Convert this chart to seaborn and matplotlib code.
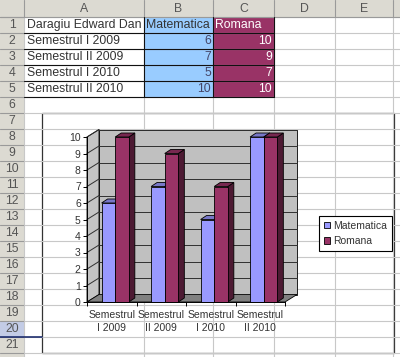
import numpy as np
import pandas as pd
import matplotlib.pyplot as plt
import seaborn as sns
from matplotlib.patches import Rectangle, Polygon, Patch

# datele din foaia excel
titlu = 'Daragiu Edward Dan'
semestre = ['Semestrul I 2009', 'Semestrul II 2009', 'Semestrul I 2010', 'Semestrul II 2010']
etichete = ['Semestrul\nI 2009', 'Semestrul\nII 2009', 'Semestrul\nI 2010', 'Semestrul\nII 2010']
materii = ['Matematica', 'Romana']
matematica = [6, 7, 5, 10]
romana = [10, 9, 7, 10]
coloane = ['A', 'B', 'C', 'D', 'E']
niveluri = list(range(11))

culori = {'Matematica': '#9999FF', 'Romana': '#993366'}

sns.set_theme(style='white')
plt.rcParams['font.family'] = ['Liberation Sans', 'DejaVu Sans']

fig = plt.figure(figsize=(4, 3.57), dpi=100)

# --- foaia de calcul (coordonate in pixeli) ---
bg = fig.add_axes([0, 0, 1, 1])
bg.set_xlim(0, 400)
bg.set_ylim(357, 0)
bg.axis('off')

col_x = [0, 24, 144, 213, 274, 335, 393, 400]
antet = '#DCDAD2'
grila = '#C8C8C8'
text_c = '#333333'
fs = 8.8

bg.add_patch(Rectangle((0, 0), 400, 17, fc=antet, ec='none'))
bg.add_patch(Rectangle((0, 17), 24, 340, fc=antet, ec='none'))
bg.add_patch(Rectangle((0, 321), 24, 16, fc='#C3CCE6', ec='none'))
bg.add_patch(Rectangle((144, 17), 69, 80, fc='#99CCFF', ec='none'))
bg.add_patch(Rectangle((213, 17), 61, 80, fc='#993366', ec='none'))

for x in col_x[1:-1]:
    bg.plot([x, x], [0, 17], color='#9A9A9A', lw=0.8)
    bg.plot([x, x], [17, 357], color=grila, lw=0.8)
for k in range(23):
    y = 17 + 16 * k
    bg.plot([0, 24], [y, y], color='#9A9A9A', lw=0.8)
    bg.plot([24, 400], [y, y], color=grila, lw=0.8)
bg.plot([0, 400], [17, 17], color='#9A9A9A', lw=0.8)

# chenare negre A1:C5
for k in range(1, 6):
    y = 17 + 16 * k
    bg.plot([24, 274], [y, y], color='#111111', lw=0.8)
for x in [144, 213, 274]:
    bg.plot([x, x], [17, 97], color='#111111', lw=0.8)
bg.plot([0, 42], [337, 337], color='#1F2F6F', lw=1.2)

for i, c in enumerate(coloane):
    bg.text((col_x[i + 1] + col_x[i + 2]) / 2, 8.5, c, ha='center', va='center',
            fontsize=fs, color='#555555')
for r in range(1, 22):
    bg.text(12, 25 + 16 * (r - 1), str(r), ha='center', va='center',
            fontsize=fs, color='#555555')

bg.text(27, 25, titlu, va='center', fontsize=fs, color=text_c)
bg.text(146, 25, materii[0], va='center', fontsize=fs, color=text_c)
bg.text(215, 25, materii[1], va='center', fontsize=fs, color='white')
for i, s in enumerate(semestre):
    y = 41 + 16 * i
    bg.text(27, y, s, va='center', fontsize=fs, color=text_c)
    bg.text(211, y, str(matematica[i]), va='center', ha='right', fontsize=fs, color='#444466')
    bg.text(272, y, str(romana[i]), va='center', ha='right', fontsize=fs, color='white')

# chenarul graficului
bg.add_patch(Rectangle((42, 113), 352, 240, fc='white', ec='#333333', lw=0.9))

# --- graficul 3D ---
ax = fig.add_axes([87 / 400, 55 / 357, 198 / 400, 165 / 357])
ax.patch.set_visible(False)

df = pd.DataFrame({
    'semestru': semestre * 2,
    'materie': [materii[0]] * 4 + [materii[1]] * 4,
    'nota': matematica + romana,
})
sns.barplot(data=df, x='semestru', y='nota', hue='materie', palette=culori,
            width=0.55, saturation=1, errorbar=None, edgecolor='black',
            linewidth=0.6, legend=False, ax=ax)

xl, xr = -0.57, 3.43
dx, dy = 12 / 49.5, 7.5 / 16.5
bdx, bdy = 6 / 49.5, 4 / 16.5

bare = list(ax.patches)
for p in bare:
    x, w, h = p.get_x(), p.get_width(), p.get_height()
    fc = np.array(p.get_facecolor()[:3])
    p.set_zorder(3)
    ax.add_patch(Polygon([(x + w, 0), (x + w + bdx, bdy), (x + w + bdx, h + bdy), (x + w, h)],
                         fc=fc * 0.5, ec='black', lw=0.6, zorder=2, clip_on=False))
    ax.add_patch(Polygon([(x, h), (x + w, h), (x + w + bdx, h + bdy), (x + bdx, h + bdy)],
                         fc=fc * 0.78, ec='black', lw=0.6, zorder=2, clip_on=False))

# pereti si podea
ax.add_patch(Rectangle((xl + dx, dy), xr - xl, 10, fc='#C0C0C0', ec='black', lw=0.6,
                       zorder=0.5, clip_on=False))
ax.add_patch(Polygon([(xl, 0), (xl + dx, dy), (xl + dx, 10 + dy), (xl, 10)],
                     fc='#C4C4C4', ec='black', lw=0.6, zorder=0.5, clip_on=False))
ax.add_patch(Polygon([(xl, 0), (xr, 0), (xr + dx, dy), (xl + dx, dy)],
                     fc='#808080', ec='black', lw=0.6, zorder=0.6, clip_on=False))
for v in niveluri[1:]:
    ax.plot([xl + dx, xr + dx], [v + dy, v + dy], color='#303030', lw=0.7, zorder=1, clip_on=False)
    ax.plot([xl, xl + dx], [v, v + dy], color='#303030', lw=0.7, zorder=1, clip_on=False)

ax.set_xlim(xl, xr)
ax.set_ylim(0, 10)
ax.set_yticks(niveluri)
ax.set_xticks([i - 0.07 for i in range(len(etichete))])
ax.set_xticklabels(etichete, fontsize=7.5, color='#333333', linespacing=1.35)
ax.set_xticks([xl + k for k in range(5)], minor=True)
ax.tick_params(axis='y', labelsize=7.5, labelcolor='#333333', length=3, width=0.7,
               direction='out', left=True, pad=1.5, color='black')
ax.tick_params(axis='x', which='major', length=0, pad=6)
ax.tick_params(axis='x', which='minor', length=3, width=0.7, direction='out',
               bottom=True, color='black')
ax.set_xlabel('')
ax.set_ylabel('')
for s in ['top', 'right']:
    ax.spines[s].set_visible(False)
for s in ['left', 'bottom']:
    ax.spines[s].set_visible(True)
    ax.spines[s].set_color('black')
    ax.spines[s].set_linewidth(0.7)
    ax.spines[s].set_zorder(4)

handles = [Patch(fc=culori[m], ec='black', lw=0.6) for m in materii]
leg = fig.legend(handles, materii, loc='upper left', bbox_to_anchor=(319 / 400, 1 - 216 / 357),
                 frameon=True, fancybox=False, edgecolor='black', framealpha=1,
                 fontsize=7.5, handlelength=0.6, handleheight=0.6, handletextpad=0.35,
                 borderpad=0.45, labelspacing=0.55, borderaxespad=0)
leg.get_frame().set_linewidth(0.8)
for t in leg.get_texts():
    t.set_color('#333333')

fig.savefig('out.png', dpi=100)
